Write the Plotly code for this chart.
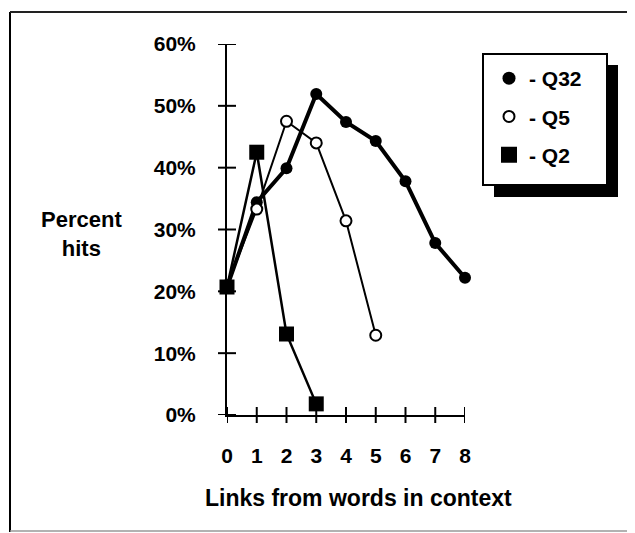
import plotly.graph_objects as go

# ---- data ----
links = [0, 1, 2, 3, 4, 5, 6, 7, 8]
q32 = [20.7, 34.4, 39.9, 51.9, 47.4, 44.3, 37.8, 27.8, 22.2]
q5_links = [0, 1, 2, 3, 4, 5]
q5 = [20.9, 33.3, 47.5, 44.0, 31.4, 12.9]
q2_links = [0, 1, 2, 3]
q2 = [20.7, 42.5, 13.1, 1.8]
x_ticks = [0, 1, 2, 3, 4, 5, 6, 7, 8]
y_ticks = [0, 10, 20, 30, 40, 50, 60]
y_tick_labels = ["0%", "10%", "20%", "30%", "40%", "50%", "60%"]
series_names = ["- Q32", "- Q5", "- Q2"]

FONT = "Liberation Sans, Arial, Helvetica, sans-serif"
W, H = 635, 533
OFF = 8  # page body margin offset
ML = 227 - OFF
MT = 44 - OFF
MB = H - (415 - OFF)
MR = W - (465 - OFF)

fig = go.Figure()

fig.add_trace(go.Scatter(
    x=links, y=q32, mode="lines+markers", showlegend=False, cliponaxis=False,
    line=dict(color="black", width=4),
    marker=dict(symbol="circle", size=12, color="black")))
fig.add_trace(go.Scatter(
    x=q5_links, y=q5, mode="lines+markers", showlegend=False, cliponaxis=False,
    line=dict(color="black", width=2),
    marker=dict(symbol="circle", size=11, color="white", line=dict(color="black", width=2))))
fig.add_trace(go.Scatter(
    x=q2_links, y=q2, mode="lines+markers", showlegend=False, cliponaxis=False,
    line=dict(color="black", width=2.5),
    marker=dict(symbol="square", size=15, color="black")))

# legend-only entries (markers only, as in the reference key)
legend_markers = [
    dict(symbol="circle", size=13, color="black"),
    dict(symbol="circle", size=11, color="white", line=dict(color="black", width=2)),
    dict(symbol="square", size=16, color="black"),
]
for name, mk in zip(series_names, legend_markers):
    fig.add_trace(go.Scatter(x=[None], y=[None], mode="markers", name=name,
                             marker=mk, legendgroup=name))

shapes = []
# crossing tick marks
for v in x_ticks:
    shapes.append(dict(type="line", xref="x", x0=v, x1=v, yref="paper",
                       ysizemode="pixel", yanchor=0, y0=-8, y1=8,
                       line=dict(color="black", width=2)))
for v in y_ticks:
    shapes.append(dict(type="line", yref="y", y0=v, y1=v, xref="paper",
                       xsizemode="pixel", xanchor=0, x0=-9, x1=9,
                       line=dict(color="black", width=2)))

pw = W - ML - MR
ph = H - MT - MB
def px(x):
    return (x - OFF - ML) / pw
def py(y):
    return (H - MB - (y - OFF)) / ph

# legend box with drop shadow
shapes.append(dict(type="rect", xref="paper", yref="paper", layer="above",
                   x0=px(494), x1=px(618), y0=py(197), y1=py(65),
                   fillcolor="black", line=dict(width=0)))
shapes.append(dict(type="rect", xref="paper", yref="paper", layer="above",
                   x0=px(483), x1=px(607), y0=py(185), y1=py(54),
                   fillcolor="white", line=dict(color="black", width=2)))
# outer frame
shapes.append(dict(type="line", xref="paper", yref="paper", layer="above",
                   x0=px(10), x1=px(10), y0=py(12), y1=py(532),
                   line=dict(color="black", width=2)))
shapes.append(dict(type="line", xref="paper", yref="paper", layer="above",
                   x0=px(10), x1=px(642), y0=py(12), y1=py(12),
                   line=dict(color="#222222", width=2)))
shapes.append(dict(type="line", xref="paper", yref="paper", layer="above",
                   x0=px(10), x1=px(642), y0=py(531), y1=py(531),
                   line=dict(color="#999999", width=1.5)))

annotations = [
    dict(text="Percent<br>hits", xref="paper", yref="paper", x=px(81), y=py(234),
         showarrow=False, font=dict(size=22, color="black", family=FONT, weight="bold"),
         xanchor="center", yanchor="middle", align="center"),
    dict(text="Links from words in context", xref="paper", yref="paper",
         x=px(358), y=py(498), showarrow=False,
         font=dict(size=23, color="black", family=FONT, weight="bold"),
         xanchor="center", yanchor="middle"),
]

fig.update_layout(
    width=W, height=H,
    margin=dict(l=ML, r=MR, t=MT, b=MB, pad=0),
    paper_bgcolor="white", plot_bgcolor="white",
    font=dict(family=FONT, size=21, color="black", weight="bold"),
    xaxis=dict(range=[0, 8], tickmode="array", tickvals=x_ticks, ticks="", showgrid=False,
               zeroline=False, showline=True, linecolor="black", linewidth=2,
               ticklabelstandoff=21, tickfont=dict(size=21)),
    yaxis=dict(range=[0, 60], tickmode="array", tickvals=y_ticks, ticktext=y_tick_labels,
               ticks="", showgrid=False, zeroline=False, showline=True, linecolor="black",
               linewidth=2, ticklabelstandoff=25, tickfont=dict(size=21)),
    legend=dict(x=px(489), y=py(58), xanchor="left", yanchor="top",
                bgcolor="rgba(0,0,0,0)", borderwidth=0, tracegroupgap=8,
                font=dict(size=21, family=FONT, weight="bold"), itemsizing="trace"),
    shapes=shapes,
    annotations=annotations,
)

fig.write_html("out.html")
